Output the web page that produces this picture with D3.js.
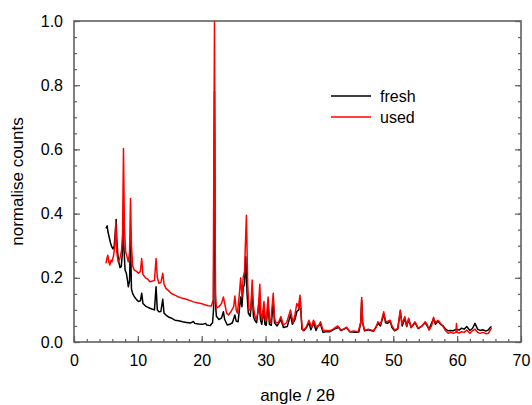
<!DOCTYPE html>
<html>
<head>
<meta charset="utf-8">
<script src="https://cdn.jsdelivr.net/npm/d3@7"></script>
<style>
  body { margin: 0; background: #fff; }
  svg { display: block; font-family: "Liberation Sans", Arial, sans-serif; }
</style>
</head>
<body>
<svg width="532" height="405"></svg>
<script>
// Chart size and margins
var width = 532;
var height = 405;
var margin = {top: 21, right: 11, bottom: 63, left: 74};

// Series: fresh sample (angle 2theta, normalised counts)
var freshAngle = [5.0, 5.2, 5.3, 5.5, 5.7, 5.9, 6.1, 6.3, 6.5, 6.6, 6.7, 6.85, 7.0, 7.2, 7.4, 7.55, 7.7, 7.8, 8.0, 8.2,
  8.4, 8.5, 8.7, 8.85, 9.0, 9.2, 9.45, 9.8, 10.1, 10.4, 10.6, 10.8, 11.2, 11.6, 11.9, 12.3, 12.6, 12.85, 13.05, 13.3,
  13.6, 13.9, 14.1, 14.4, 14.8, 15.2, 15.8, 16.4, 17.0, 17.6, 18.2, 18.7, 18.9, 19.5, 20.1, 20.6, 20.8, 21.3, 21.7, 21.85,
  22.0, 22.15, 22.3, 22.7, 23.1, 23.4, 23.6, 24.0, 24.4, 24.8, 25.2, 25.4, 25.7, 26.1, 26.3, 26.5, 26.7, 26.9, 27.1, 27.3,
  27.6, 27.9, 28.1, 28.3, 28.6, 29.0, 29.2, 29.4, 29.75, 29.9, 30.1, 30.4, 30.6, 30.9, 31.2, 31.4, 31.8, 32.4, 32.8, 33.4,
  33.9, 34.2, 34.6, 34.9, 35.2, 35.45, 35.7, 36.0, 36.4, 36.8, 37.1, 37.5, 37.9, 38.2, 38.6, 39.0, 39.6, 40.1, 40.9, 41.5,
  41.8, 42.7, 43.2, 44.0, 44.6, 44.9, 45.05, 45.2, 45.5, 46.1, 46.9, 47.6, 48.0, 48.5, 48.8, 49.1, 49.5, 49.8, 50.2, 50.7,
  51.1, 51.4, 51.8, 52.1, 52.4, 52.8, 53.4, 53.9, 54.4, 55.0, 55.6, 56.3, 56.6, 57.0, 57.4, 57.8, 58.2, 58.6, 59.0, 59.4,
  59.9, 60.3, 60.7, 61.1, 61.5, 62.0, 62.4, 62.8, 63.2, 63.6, 64.0, 64.5, 64.9, 65.2, 65.4];
var freshCounts = [0.354, 0.362, 0.345, 0.328, 0.31, 0.297, 0.29, 0.30, 0.35, 0.382, 0.32, 0.276, 0.25, 0.232, 0.235, 0.27, 0.388, 0.30, 0.224, 0.214,
  0.19, 0.172, 0.19, 0.318, 0.165, 0.15, 0.141, 0.132, 0.126, 0.128, 0.152, 0.12, 0.112, 0.108, 0.105, 0.102, 0.10, 0.172, 0.10, 0.094,
  0.095, 0.133, 0.09, 0.084, 0.078, 0.075, 0.068, 0.066, 0.063, 0.061, 0.059, 0.064, 0.058, 0.056, 0.055, 0.058, 0.053, 0.051, 0.06, 0.1,
  0.78, 0.12, 0.08, 0.07, 0.075, 0.094, 0.07, 0.053, 0.055, 0.06, 0.084, 0.065, 0.063, 0.14, 0.11, 0.17, 0.18, 0.266, 0.15, 0.09,
  0.08, 0.16, 0.08, 0.068, 0.06, 0.13, 0.07, 0.055, 0.1, 0.055, 0.052, 0.12, 0.055, 0.052, 0.13, 0.06, 0.05, 0.07, 0.045, 0.048,
  0.085, 0.055, 0.07, 0.095, 0.1, 0.125, 0.04, 0.035, 0.045, 0.06, 0.038, 0.06, 0.036, 0.05, 0.055, 0.03, 0.033, 0.032, 0.042, 0.045,
  0.036, 0.044, 0.032, 0.03, 0.031, 0.06, 0.13, 0.06, 0.035, 0.038, 0.033, 0.058, 0.05, 0.088, 0.06, 0.058, 0.065, 0.045, 0.035, 0.04,
  0.095, 0.05, 0.074, 0.048, 0.07, 0.045, 0.06, 0.042, 0.048, 0.06, 0.04, 0.072, 0.055, 0.065, 0.055, 0.05, 0.04, 0.035, 0.036, 0.035,
  0.04, 0.037, 0.043, 0.04, 0.048, 0.036, 0.042, 0.058, 0.04, 0.036, 0.038, 0.034, 0.038, 0.046, 0.048];

// Series: used sample
var usedAngle = [5.0, 5.15, 5.3, 5.45, 5.6, 5.8, 5.95, 6.2, 6.4, 6.55, 6.7, 6.9, 7.1, 7.3, 7.45, 7.6, 7.75, 7.9, 8.1, 8.3,
  8.5, 8.7, 8.85, 9.0, 9.2, 9.45, 9.8, 10.1, 10.4, 10.6, 10.8, 11.2, 11.6, 11.9, 12.3, 12.6, 12.85, 13.05, 13.3, 13.6,
  13.9, 14.1, 14.4, 14.8, 15.2, 15.8, 16.4, 17.0, 17.6, 18.2, 18.7, 19.3, 19.9, 20.5, 21.0, 21.5, 21.8, 22.0, 22.15, 22.3,
  22.7, 23.1, 23.4, 23.6, 23.9, 24.2, 24.6, 25.0, 25.2, 25.4, 25.6, 25.9, 26.1, 26.3, 26.5, 26.7, 27.0, 27.2, 27.4, 27.7,
  27.9, 28.1, 28.3, 28.5, 28.8, 29.1, 29.25, 29.4, 29.75, 29.95, 30.1, 30.4, 30.6, 30.8, 31.2, 31.4, 31.6, 32.0, 32.4, 32.8,
  33.3, 33.9, 34.3, 34.6, 34.9, 35.15, 35.4, 35.6, 35.8, 36.1, 36.4, 36.8, 37.2, 37.5, 38.0, 38.3, 38.6, 39.0, 39.5, 40.1,
  40.6, 40.9, 41.3, 41.7, 42.2, 42.7, 43.2, 43.8, 44.5, 44.9, 45.05, 45.2, 45.5, 46.1, 46.9, 47.3, 47.6, 48.0, 48.5, 48.8,
  49.0, 49.5, 49.8, 50.2, 50.7, 51.1, 51.35, 51.8, 52.1, 52.4, 52.8, 53.4, 53.9, 54.5, 55.0, 55.3, 55.6, 56.0, 56.3, 56.6,
  57.0, 57.4, 57.8, 58.2, 58.6, 59.0, 59.4, 59.8, 59.9, 60.0, 60.3, 60.7, 61.1, 61.5, 62.0, 62.4, 62.8, 63.2, 63.6, 64.0,
  64.5, 64.9, 65.2, 65.4];
var usedCounts = [0.245, 0.26, 0.27, 0.25, 0.24, 0.255, 0.25, 0.27, 0.30, 0.375, 0.28, 0.25, 0.255, 0.27, 0.287, 0.33, 0.603, 0.35, 0.28, 0.266,
  0.25, 0.28, 0.447, 0.30, 0.235, 0.224, 0.22, 0.214, 0.22, 0.26, 0.21, 0.2, 0.195, 0.188, 0.19, 0.192, 0.26, 0.2, 0.183, 0.185,
  0.214, 0.18, 0.167, 0.16, 0.152, 0.146, 0.14, 0.136, 0.133, 0.129, 0.125, 0.122, 0.12, 0.116, 0.113, 0.112, 0.13, 1.0, 0.15, 0.106,
  0.11, 0.12, 0.14, 0.12, 0.09, 0.084, 0.095, 0.11, 0.143, 0.1, 0.09, 0.15, 0.2, 0.14, 0.203, 0.22, 0.395, 0.18, 0.1, 0.1,
  0.193, 0.11, 0.084, 0.07, 0.09, 0.18, 0.09, 0.068, 0.126, 0.07, 0.068, 0.14, 0.07, 0.06, 0.152, 0.075, 0.06, 0.06, 0.079, 0.053,
  0.06, 0.1, 0.06, 0.085, 0.12, 0.11, 0.146, 0.07, 0.037, 0.04, 0.048, 0.068, 0.045, 0.068, 0.045, 0.05, 0.063, 0.037, 0.036, 0.035,
  0.04, 0.045, 0.05, 0.037, 0.04, 0.046, 0.032, 0.034, 0.032, 0.06, 0.139, 0.06, 0.037, 0.04, 0.035, 0.045, 0.063, 0.055, 0.094, 0.065,
  0.063, 0.068, 0.05, 0.037, 0.042, 0.1, 0.055, 0.079, 0.05, 0.074, 0.045, 0.063, 0.043, 0.05, 0.063, 0.055, 0.037, 0.05, 0.077, 0.06,
  0.068, 0.058, 0.048, 0.035, 0.027, 0.03, 0.027, 0.03, 0.058, 0.03, 0.028, 0.032, 0.03, 0.037, 0.027, 0.035, 0.04, 0.03, 0.027, 0.03,
  0.026, 0.027, 0.038, 0.043];

// Axis ticks
var xTicks = [0, 10, 20, 30, 40, 50, 60, 70];
var xMinorTicks = d3.range(0, 70.01, 2);
var yTicks = [0.0, 0.2, 0.4, 0.6, 0.8, 1.0];
var yMinorTicks = d3.range(0, 1.001, 0.05);

// Legend entries
var seriesNames = ["fresh", "used"];
var seriesColors = ["#000000", "#ff0000"];

var svg = d3.select("svg");
var innerW = width - margin.left - margin.right;
var innerH = height - margin.top - margin.bottom;

var x = d3.scaleLinear().domain([0, 70]).range([margin.left, margin.left + innerW]);
var y = d3.scaleLinear().domain([0, 1]).range([margin.top + innerH, margin.top]);

var axisColor = "#606060";

// Clip so the tall peak stays inside the frame
svg.append("clipPath").attr("id", "plot-clip")
  .append("rect")
  .attr("x", margin.left).attr("y", margin.top)
  .attr("width", innerW).attr("height", innerH);

// Draw lines (fresh first, used on top)
var line = d3.line()
  .x(function(d) { return x(d[0]); })
  .y(function(d) { return y(d[1]); });

var freshData = freshAngle.map(function(a, i) { return [a, freshCounts[i]]; });
var usedData = usedAngle.map(function(a, i) { return [a, usedCounts[i]]; });

[freshData, usedData].forEach(function(data, i) {
  svg.append("path")
    .attr("clip-path", "url(#plot-clip)")
    .attr("d", line(data))
    .attr("fill", "none")
    .attr("stroke", seriesColors[i])
    .attr("stroke-width", 1.5)
    .attr("stroke-linejoin", "round");
});

// Bottom axis with inward ticks
var xAxis = svg.append("g").attr("transform", "translate(0," + (margin.top + innerH) + ")");
xAxis.call(d3.axisBottom(x).tickValues(xMinorTicks).tickSize(-3).tickFormat(""));
xAxis.call(function(g) { g.select(".domain").remove(); });
var xMajor = svg.append("g").attr("transform", "translate(0," + (margin.top + innerH) + ")")
  .call(d3.axisBottom(x).tickValues(xTicks).tickSize(-6).tickPadding(13).tickFormat(d3.format("d")));
xMajor.select(".domain").remove();
xMajor.selectAll("text").attr("font-size", 16).attr("fill", "#000");

// Left axis
var yAxis = svg.append("g").attr("transform", "translate(" + margin.left + ",0)");
yAxis.call(d3.axisLeft(y).tickValues(yMinorTicks).tickSize(-3).tickFormat(""));
yAxis.select(".domain").remove();
var yMajor = svg.append("g").attr("transform", "translate(" + margin.left + ",0)")
  .call(d3.axisLeft(y).tickValues(yTicks).tickSize(-6).tickPadding(11).tickFormat(d3.format(".1f")));
yMajor.select(".domain").remove();
yMajor.selectAll("text").attr("font-size", 16).attr("fill", "#000");

// Right axis, ticks only
var yRight = svg.append("g").attr("transform", "translate(" + (margin.left + innerW) + ",0)");
yRight.call(d3.axisRight(y).tickValues(yMinorTicks).tickSize(-3).tickFormat(""));
yRight.select(".domain").remove();
var yRightMajor = svg.append("g").attr("transform", "translate(" + (margin.left + innerW) + ",0)")
  .call(d3.axisRight(y).tickValues(yTicks).tickSize(-6).tickFormat(""));
yRightMajor.select(".domain").remove();

svg.selectAll(".tick line").attr("stroke", axisColor).attr("stroke-width", 1.2);

// Frame
svg.append("rect")
  .attr("x", margin.left).attr("y", margin.top)
  .attr("width", innerW).attr("height", innerH)
  .attr("fill", "none")
  .attr("stroke", axisColor)
  .attr("stroke-width", 1.6);

// Axis titles
svg.append("text")
  .attr("x", x(35)).attr("y", 401)
  .attr("text-anchor", "middle")
  .attr("font-size", 17)
  .text("angle / 2θ");

svg.append("text")
  .attr("transform", "translate(23," + (margin.top + innerH / 2) + ") rotate(-90)")
  .attr("text-anchor", "middle")
  .attr("font-size", 17)
  .text("normalise counts");

// Legend
var legend = svg.append("g");
seriesNames.forEach(function(name, i) {
  var ly = 96 + i * 21;
  legend.append("line")
    .attr("x1", 331).attr("x2", 371)
    .attr("y1", ly).attr("y2", ly)
    .attr("stroke", seriesColors[i])
    .attr("stroke-width", 1.3);
  legend.append("text")
    .attr("x", 380).attr("y", ly + 6)
    .attr("font-size", 16)
    .text(name);
});
</script>
</body>
</html>
